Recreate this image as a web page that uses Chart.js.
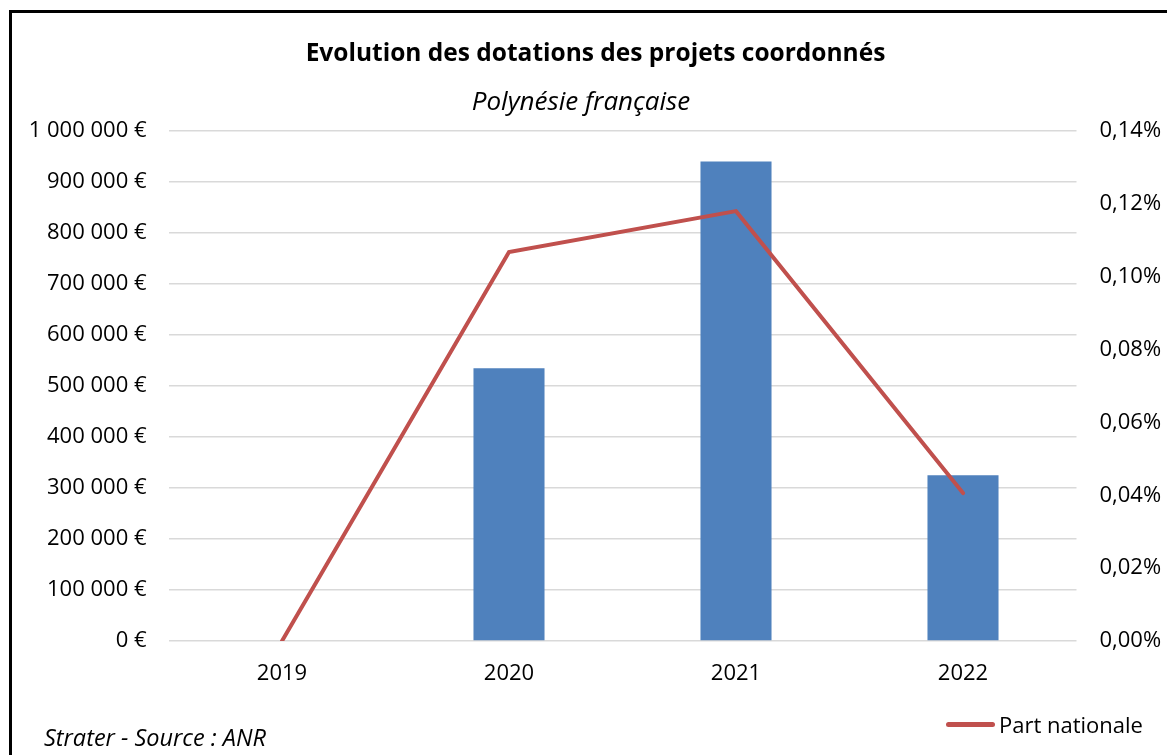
<!DOCTYPE html>
<html lang="fr">
<head>
<meta charset="utf-8">
<script src="https://cdn.jsdelivr.net/npm/chart.js@4"></script>
<style>
  html, body { margin: 0; padding: 0; background: #fff; }
  body { width: 1167px; height: 755px; position: relative; overflow: hidden; font-family: "Open Sans", sans-serif; color: #000; }
  #frame { position: absolute; left: 9px; top: 10px; width: 1200px; height: 800px; border: 3px solid #000; box-sizing: border-box; }
  #wrap { position: absolute; left: 0; top: 0; width: 1167px; height: 755px; }
  .txt { position: absolute; white-space: nowrap; line-height: 1.35; }
  #title { left: 0; width: 1191px; text-align: center; top: 35px; font-size: 24.5px; font-weight: 700; }
  #subtitle { left: 0; width: 1162px; text-align: center; top: 83px; font-size: 26px; font-style: italic; }
  #footer { left: 44px; top: 722px; font-size: 23.5px; font-style: italic; }
  #legend { left: 946px; top: 710px; font-size: 22px; display: flex; align-items: center; }
  #legend .swatch { display: inline-block; width: 49px; height: 5px; border-radius: 3px; background: #c0504d; margin-right: 4px; }
</style>
</head>
<body>
<div id="frame"></div>
<div id="wrap"><canvas id="mainChart" width="1167" height="755"></canvas></div>
<div class="txt" id="title">Evolution des dotations des projets coordonnés</div>
<div class="txt" id="subtitle">Polynésie française</div>
<div class="txt" id="footer">Strater - Source : ANR</div>
<div class="txt" id="legend"><span class="swatch"></span><span id="legendLabel"></span></div>
<script>
const years = ["2019", "2020", "2021", "2022"];
const dotations = [0, 535000, 940000, 325000];
const partNationale = [0, 0.1068, 0.118, 0.0406]; // en %

const ctx = document.getElementById("mainChart").getContext("2d");

const mainChart = new Chart(ctx, {
  type: "bar",
  data: {
    labels: years,
    datasets: [
      {
        type: "line",
        label: "Part nationale",
        data: partNationale,
        yAxisID: "y1",
        borderColor: "#c0504d",
        backgroundColor: "#c0504d",
        borderWidth: 4,
        pointRadius: 0,
        tension: 0,
        borderCapStyle: "round",
        order: 0,
      },
      {
        label: "Dotations",
        data: dotations,
        yAxisID: "y",
        backgroundColor: "#4f81bd",
        borderColor: "#4f81bd",
        categoryPercentage: 1,
        barPercentage: 0.313,
        order: 1,
      },
    ],
  },
  options: {
    responsive: false,
    animation: false,
    layout: { padding: { top: 131, bottom: 51, left: 0, right: 0 } },
    scales: {
      x: {
        grid: { display: false },
        border: { display: false },
        ticks: { color: "#000", padding: 12, font: { family: "Open Sans", size: 22 } },
        afterFit: function (scale) {
          scale.height = 63;
        },
      },
      y: {
        position: "left",
        min: 0,
        max: 1000000,
        border: { display: false },
        grid: { color: "#d9d9d9", lineWidth: 1.5, drawTicks: false },
        ticks: {
          stepSize: 100000,
          color: "#000",
          padding: 22,
          font: { family: "Open Sans", size: 22 },
          callback: function (value) {
            return value.toLocaleString("fr-FR").replace(/[\u202f\u00a0]/g, " ") + " €";
          },
        },
        afterFit: function (scale) {
          scale.width = 168.5;
        },
      },
      y1: {
        position: "right",
        min: 0,
        max: 0.14,
        border: { display: false },
        grid: { display: false, drawTicks: false },
        ticks: {
          stepSize: 0.02,
          color: "#000",
          padding: 23,
          font: { family: "Open Sans", size: 22 },
          callback: function (value) {
            return value.toFixed(2).replace(".", ",") + "%";
          },
        },
        afterFit: function (scale) {
          scale.width = 90.5;
        },
      },
    },
    plugins: {
      legend: { display: false },
      tooltip: { enabled: false },
    },
  },
});

// légende HTML : seule la série "Part nationale" y figure
document.getElementById("legendLabel").textContent = mainChart.data.datasets[0].label;
</script>
</body>
</html>
